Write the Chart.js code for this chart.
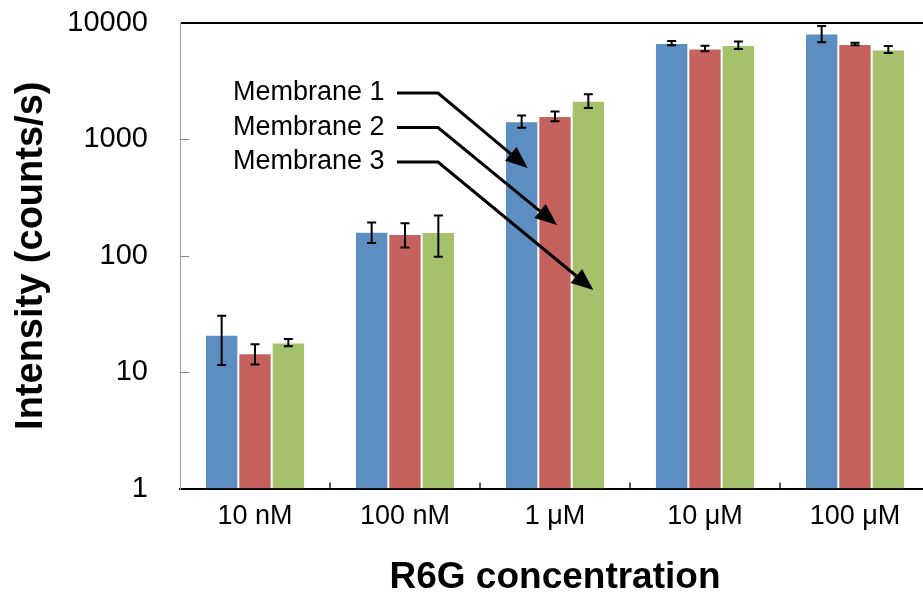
<!DOCTYPE html>
<html>
<head>
<meta charset="utf-8">
<script src="https://cdn.jsdelivr.net/npm/chart.js@4.4.1/dist/chart.umd.min.js"></script>
<style>
  html, body { margin: 0; padding: 0; background: #fff; overflow: hidden; }
  #wrap { width: 930px; height: 594px; }
</style>
</head>
<body>
<div id="wrap"><canvas id="r6g-chart" width="930" height="594"></canvas></div>
<script>
const categories = ['10 nM', '100 nM', '1 \u03bcM', '10 \u03bcM', '100 \u03bcM'];
const seriesNames = ['Membrane 1', 'Membrane 2', 'Membrane 3'];

const membrane1 = [21, 161, 1430, 6720, 8140];
const membrane1Err = [9.5, 32, 170, 290, 1300];
const membrane2 = [14.5, 154, 1585, 6050, 6590];
const membrane2Err = [2.9, 36, 155, 340, 160];
const membrane3 = [18, 160, 2150, 6460, 5930];
const membrane3Err = [1.3, 62, 290, 480, 400];

const yTicks = [1, 10, 100, 1000, 10000];

const colors = ['#5d8ec2', '#c5625e', '#a6c16b'];
const errors = [membrane1Err, membrane2Err, membrane3Err];

// callout label lines, pointing into the 1 uM bars
const calloutBar = 2;
const calloutTipY = [168, 225, 290];
const calloutTipDx = [6, 2, 5];

const errorBars = {
  id: 'errorBars',
  afterDatasetsDraw(chart) {
    const ctx = chart.ctx;
    const y = chart.scales.y;
    ctx.save();
    ctx.strokeStyle = '#000';
    ctx.lineWidth = 2;
    chart.data.datasets.forEach((ds, i) => {
      const meta = chart.getDatasetMeta(i);
      meta.data.forEach((bar, j) => {
        const v = ds.data[j], e = errors[i][j];
        const top = y.getPixelForValue(v + e);
        const bot = y.getPixelForValue(v - e);
        ctx.beginPath();
        ctx.moveTo(bar.x, top); ctx.lineTo(bar.x, bot);
        ctx.moveTo(bar.x - 4.5, top); ctx.lineTo(bar.x + 4.5, top);
        ctx.moveTo(bar.x - 4.5, bot); ctx.lineTo(bar.x + 4.5, bot);
        ctx.stroke();
      });
    });
    ctx.restore();
  }
};

const axisMarks = {
  id: 'axisMarks',
  afterDraw(chart) {
    const ctx = chart.ctx;
    const { x, y } = chart.scales;
    const area = chart.chartArea;
    ctx.save();
    // inside ticks on the value axis
    ctx.strokeStyle = '#888';
    ctx.lineWidth = 1;
    yTicks.slice(1, -1).forEach(t => {
      const py = Math.round(y.getPixelForValue(t)) + 0.5;
      ctx.beginPath();
      ctx.moveTo(area.left, py); ctx.lineTo(area.left + 9, py);
      ctx.stroke();
    });
    // inside ticks between categories
    ctx.strokeStyle = '#222';
    ctx.lineWidth = 1.5;
    for (let i = 0; i < categories.length - 1; i++) {
      const px = (x.getPixelForValue(i) + x.getPixelForValue(i + 1)) / 2;
      ctx.beginPath();
      ctx.moveTo(px, area.bottom); ctx.lineTo(px, area.bottom - 6);
      ctx.stroke();
    }

    // callouts
    ctx.fillStyle = '#000';
    ctx.strokeStyle = '#000';
    ctx.lineWidth = 3;
    ctx.font = '27px "Liberation Sans", Arial, sans-serif';
    ctx.textBaseline = 'middle';
    seriesNames.forEach((name, i) => {
      const ty = 93 + i * 34.5;
      ctx.fillText(name, 233, ty);
      const bar = chart.getDatasetMeta(i).data[calloutBar];
      const tx = bar.x + calloutTipDx[i];
      const tipY = calloutTipY[i];
      const ang = Math.atan2(tipY - ty, tx - 438);
      const head = 22, half = 9;
      const bx = tx - head * Math.cos(ang), by = tipY - head * Math.sin(ang);
      ctx.beginPath();
      ctx.moveTo(397, ty); ctx.lineTo(438, ty); ctx.lineTo(bx, by);
      ctx.stroke();
      ctx.beginPath();
      ctx.moveTo(tx, tipY);
      ctx.lineTo(bx + half * Math.sin(ang), by - half * Math.cos(ang));
      ctx.lineTo(bx - half * Math.sin(ang), by + half * Math.cos(ang));
      ctx.closePath();
      ctx.fill();
    });
    ctx.restore();
  }
};

const makeDataset = (label, data, color) => ({
  label,
  data,
  backgroundColor: color,
  borderColor: 'rgba(255,255,255,0.35)',
  borderWidth: 1,
  categoryPercentage: 0.667,
  barPercentage: 1.0,
});

new Chart(document.getElementById('r6g-chart'), {
  type: 'bar',
  data: {
    labels: categories,
    datasets: [
      makeDataset(seriesNames[0], membrane1, colors[0]),
      makeDataset(seriesNames[1], membrane2, colors[1]),
      makeDataset(seriesNames[2], membrane3, colors[2]),
    ]
  },
  options: {
    responsive: false,
    animation: false,
    devicePixelRatio: 1,
    layout: { padding: { top: 23, right: 0, left: 0, bottom: 0 } },
    plugins: { legend: { display: false }, tooltip: { enabled: false } },
    scales: {
      x: {
        afterFit: (scale) => { scale.height = 105.5; },
        grid: { display: false, drawTicks: false },
        border: { color: '#000', width: 2 },
        ticks: {
          color: '#000',
          padding: 12,
          font: { family: '"Liberation Sans", Arial, sans-serif', size: 27 },
        },
        title: {
          display: true,
          text: 'R6G concentration',
          color: '#000',
          padding: 0,
          font: { family: '"Liberation Sans", Arial, sans-serif', size: 37, weight: 'bold', lineHeight: 0.9 },
        }
      },
      y: {
        type: 'logarithmic',
        min: 1,
        max: 10000,
        afterFit: (scale) => {
          scale.width = 180;
          scale.paddingTop = 0;
          scale.paddingBottom = 0;
        },
        afterBuildTicks: (scale) => { scale.ticks = yTicks.map(v => ({ value: v })); },
        grid: {
          drawTicks: false,
          color: (c) => (c.tick && c.tick.value === 10000 ? '#000' : 'rgba(0,0,0,0)'),
          lineWidth: 2,
        },
        border: { color: '#999', width: 1 },
        ticks: {
          color: '#000',
          padding: 32,
          callback: (v) => String(v),
          font: { family: '"Liberation Sans", Arial, sans-serif', size: 29 },
        },
        title: {
          display: true,
          text: 'Intensity (counts/s)',
          color: '#000',
          padding: { top: 13, bottom: 0 },
          font: { family: '"Liberation Sans", Arial, sans-serif', size: 38, weight: 'bold', lineHeight: 1 },
        }
      }
    }
  },
  plugins: [errorBars, axisMarks]
});
</script>
</body>
</html>
